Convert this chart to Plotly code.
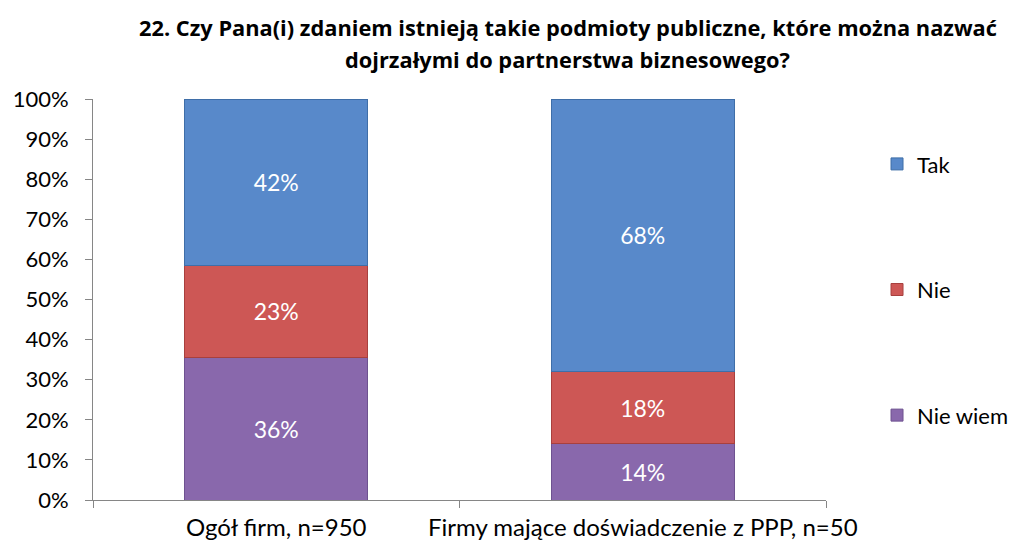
import plotly.graph_objects as go

categories = ["Ogół firm, n=950", "Firmy mające doświadczenie z PPP, n=50"]
series_names = ["Nie wiem", "Nie", "Tak"]
nie_wiem = [36, 14]
nie = [23, 18]
tak = [42, 68]
colors = {"Nie wiem": "#8968AC", "Nie": "#CD5755", "Tak": "#5889CA"}
borders = {"Nie wiem": "#6E5290", "Nie": "#A8403E", "Tak": "#3F6EA8"}
legend_rank = {"Tak": 1, "Nie": 2, "Nie wiem": 3}
title_lines = ["22. Czy Pana(i) zdaniem istnieją takie podmioty publiczne, które można nazwać",
               "dojrzałymi do partnerstwa biznesowego?"]
tick_vals = [0, 10, 20, 30, 40, 50, 60, 70, 80, 90, 100]
tick_text = [f"{v}%" for v in tick_vals]

FONT = "Lato"
FS = 22
W, H = 1020, 554
L, T = 85, 91
PW, PH = 733, 401

fig = go.Figure()
for name, vals in zip(series_names, [nie_wiem, nie, tak]):
    fig.add_trace(go.Bar(
        x=categories, y=vals, name=name, legendgroup=name,
        legendrank=legend_rank[name],
        marker=dict(color=colors[name], line=dict(color=borders[name], width=1)),
        text=[f"{v}%" for v in vals], textposition="inside",
        insidetextanchor="middle", textangle=0,
        textfont=dict(color="white", size=23, family=FONT),
    ))

# title as two centred lines
for line, ypx in zip(title_lines, [19, 52]):
    fig.add_annotation(text=f"<b>{line}</b>", xref="paper", yref="paper",
                       x=(559.5 - L) / PW, y=1 + (T - ypx) / PH,
                       xanchor="center", yanchor="middle", showarrow=False,
                       font=dict(family="Open Sans", size=21.8, color="black"))

fig.update_layout(
    barmode="stack", barnorm="percent", bargap=0.5,
    width=W, height=H,
    margin=dict(l=L, r=W - L - PW, t=T, b=H - T - PH, autoexpand=False),
    paper_bgcolor="white", plot_bgcolor="white",
    font=dict(family=FONT, size=FS, color="black"),
    legend=dict(x=1.0696, xanchor="left", y=0.89, yanchor="top",
                traceorder="grouped", tracegroupgap=94,
                font=dict(family=FONT, size=FS, color="black"),
                itemwidth=30),
    uniformtext=dict(mode=False),
)
fig.update_yaxes(range=[0, 100], tickmode="array", tickvals=tick_vals, ticktext=tick_text,
                 showgrid=False, showline=True, linecolor="#868686", linewidth=1,
                 ticks="outside", ticklen=7, tickcolor="#868686", automargin=False,
                 ticklabelstandoff=12,
                 tickfont=dict(family=FONT, size=FS, color="black"), zeroline=False)
fig.update_xaxes(showgrid=False, showline=True, linecolor="#868686", linewidth=1,
                 ticks="outside", ticklen=7, tickcolor="#868686", tickson="boundaries",
                 tickangle=0, automargin=False, ticklabelstandoff=6,
                 tickfont=dict(family=FONT, size=24, color="black"))

fig.write_html("out.html")
